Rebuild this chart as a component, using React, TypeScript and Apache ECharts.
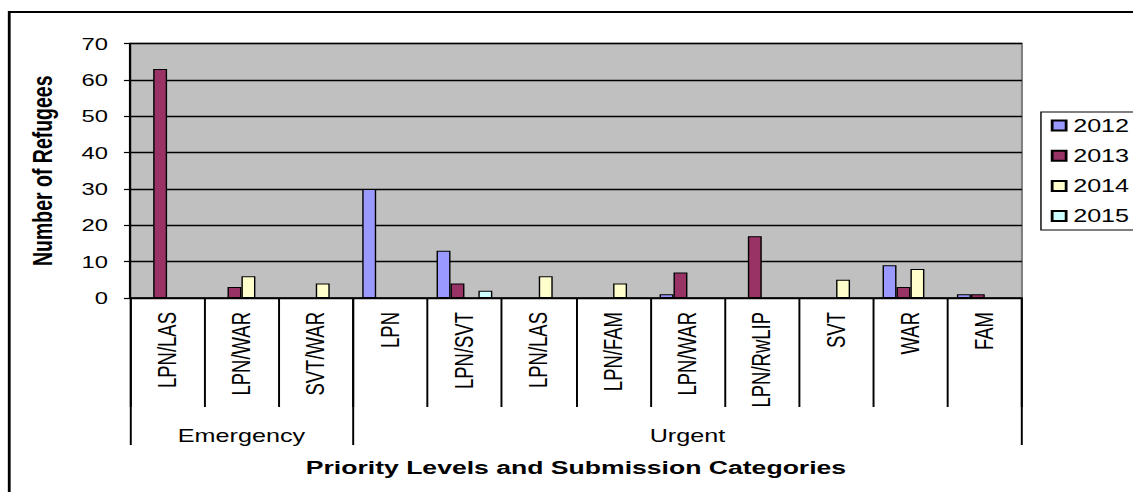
import React, { useEffect, useRef } from "react";
import * as echarts from "echarts";

const categories = [
  "LPN/LAS", "LPN/WAR", "SVT/WAR", "LPN", "LPN/SVT", "LPN/LAS",
  "LPN/FAM", "LPN/WAR", "LPN/RwLIP", "SVT", "WAR", "FAM",
];
const groupNames = ["Emergency", "Urgent"];
const groupCounts = [3, 9];
const years = ["2012", "2013", "2014", "2015"];
const values2012 = [0, 0, 0, 30, 13, 0, 0, 1, 0, 0, 9, 1];
const values2013 = [63, 3, 0, 0, 4, 0, 0, 7, 17, 0, 3, 1];
const values2014 = [0, 6, 4, 0, 0, 6, 4, 0, 0, 5, 8, 0];
const values2015 = [0, 0, 0, 0, 2, 0, 0, 0, 0, 0, 0, 0];
const yearValues = [values2012, values2013, values2014, values2015];
const yearColors = ["#9999FF", "#993366", "#FFFFCC", "#CCFFFF"];
const yTicks = [0, 10, 20, 30, 40, 50, 60, 70];

const W = 810;
const H = 492;
const SX = 1133 / W;
const FONT = "'Liberation Sans', Arial, sans-serif";

export default function App() {
  const ref = useRef<HTMLDivElement>(null);

  useEffect(() => {
    if (!ref.current) return;
    const chart = echarts.init(ref.current, undefined, { renderer: "svg" });

    const bounds: number[] = [0];
    const centers: number[] = [];
    let acc = 0;
    groupCounts.forEach((c) => {
      centers.push(acc + c / 2);
      acc += c;
      bounds.push(acc);
    });

    chart.setOption({
      animation: false,
      backgroundColor: "#ffffff",
      textStyle: { fontFamily: FONT },
      graphic: [
        {
          type: "rect",
          shape: { x: 6.6, y: 12, width: 2000, height: 2000 },
          style: { fill: "none", stroke: "#000", lineWidth: 2 },
          silent: true,
          z: -10,
        },
      ],
      legend: {
        orient: "vertical",
        left: 744.2,
        top: 112,
        padding: [4.5, 20, 5, 7],
        itemWidth: 10,
        itemHeight: 10,
        itemGap: 12.2,
        icon: "rect",
        borderColor: "#000",
        borderWidth: 1,
        backgroundColor: "#fff",
        textStyle: { fontFamily: FONT, fontSize: 18, lineHeight: 18, color: "#000" },
        data: years,
      },
      grid: {
        left: 92.9,
        top: 43.5,
        width: 637.7,
        bottom: H - 298,
        show: true,
        backgroundColor: "#C0C0C0",
        borderColor: "#808080",
        borderWidth: 1.5,
      },
      xAxis: [
        {
          type: "category",
          data: categories,
          position: "bottom",
          axisLine: { show: true, lineStyle: { color: "#000", width: 1.5 } },
          axisTick: { show: true, length: 109, lineStyle: { color: "#000", width: 1.4 } },
          axisLabel: {
            interval: 0,
            rotate: 90,
            margin: 14,
            fontFamily: FONT,
            fontSize: 18.5,
            color: "#000",
          },
          name: "Priority Levels and Submission Categories",
          nameLocation: "middle",
          nameGap: 160,
          nameTextStyle: { fontFamily: FONT, fontSize: 19, fontWeight: "bold", color: "#000" },
        },
        {
          type: "value",
          gridIndex: 0,
          position: "bottom",
          min: 0,
          max: categories.length,
          axisLine: { show: false },
          splitLine: { show: false },
          axisTick: {
            show: true,
            customValues: bounds,
            length: 147,
            lineStyle: { color: "#000", width: 1.4 },
          },
          axisLabel: {
            show: true,
            customValues: centers,
            margin: 129,
            fontFamily: FONT,
            fontSize: 18,
            color: "#000",
            formatter: (v: number) => {
              const i = centers.findIndex((c) => Math.abs(c - v) < 1e-6);
              return i >= 0 ? groupNames[i] : "";
            },
          },
        },
      ],
      yAxis: {
        type: "value",
        min: yTicks[0],
        max: yTicks[yTicks.length - 1],
        interval: yTicks[1] - yTicks[0],
        axisLine: { show: true, lineStyle: { color: "#000", width: 1.6 } },
        axisTick: { show: true, length: 4.3, lineStyle: { color: "#000", width: 1.2 } },
        splitLine: { show: true, lineStyle: { color: "#000", width: 1.3 } },
        axisLabel: { margin: 15.7, fontFamily: FONT, fontSize: 17, color: "#000" },
        name: "Number of Refugees",
        nameLocation: "middle",
        nameGap: 52,
        nameRotate: 90,
        nameTextStyle: { fontFamily: FONT, fontSize: 19.5, fontWeight: "bold", color: "#000" },
      },
      series: years.map((y, i) => ({
        name: y,
        type: "bar",
        xAxisIndex: 0,
        yAxisIndex: 0,
        barGap: "0%",
        barCategoryGap: "25%",
        data: yearValues[i].map((v) => (v === 0 ? "-" : v)),
        itemStyle: { color: yearColors[i], borderColor: "#000", borderWidth: 1 },
      })),
    });

    return () => chart.dispose();
  }, []);

  return (
    <div
      ref={ref}
      style={{
        position: "absolute",
        left: 0,
        top: 0,
        width: W,
        height: H,
        transform: `scaleX(${SX})`,
        transformOrigin: "0 0",
      }}
    />
  );
}
